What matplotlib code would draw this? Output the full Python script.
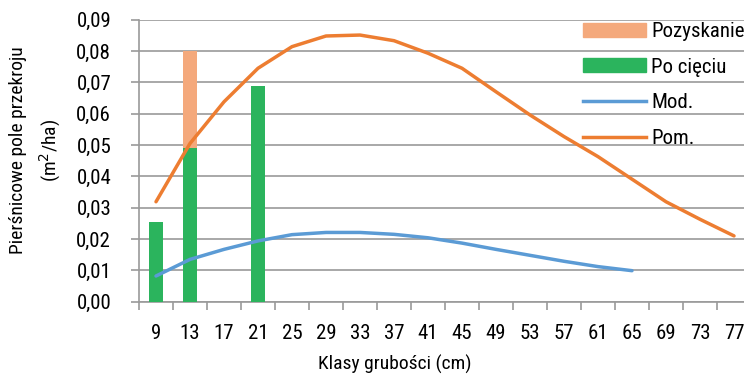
import matplotlib
matplotlib.use("Agg")
import matplotlib.pyplot as plt
import numpy as np
from matplotlib import font_manager as fm
from matplotlib.patches import Patch
from matplotlib.lines import Line2D

names = {f.name for f in fm.fontManager.ttflist}
for cand in ["Roboto Condensed", "Liberation Sans Narrow", "Open Sans Condensed", "DejaVu Sans Condensed", "Liberation Sans"]:
    if cand in names:
        FONT = cand
        break
else:
    FONT = "DejaVu Sans"
plt.rcParams['font.family'] = [FONT, 'DejaVu Sans']

# ---- data ----
classes = [9, 13, 17, 21, 25, 29, 33, 37, 41, 45, 49, 53, 57, 61, 65, 69, 73, 77]
po_cieciu = [0.0253, 0.049, 0, 0.069, 0, 0, 0, 0, 0, 0, 0, 0, 0, 0, 0, 0, 0, 0]
pozyskanie = [0, 0.031, 0, 0, 0, 0, 0, 0, 0, 0, 0, 0, 0, 0, 0, 0, 0, 0]
mod = [0.0082, 0.0135, 0.0167, 0.0194, 0.0214, 0.0221, 0.0221, 0.0215, 0.0204,
       0.0187, 0.0167, 0.0148, 0.0129, 0.0112, 0.0099]
pom = [0.0319, 0.0505, 0.0638, 0.0745, 0.0814, 0.0848, 0.0851, 0.0833, 0.0793,
       0.0745, 0.0670, 0.0596, 0.0527, 0.0463, 0.0391, 0.0319, 0.0263, 0.0210]
y_ticks = [0.00, 0.01, 0.02, 0.03, 0.04, 0.05, 0.06, 0.07, 0.08, 0.09]

C_POZ = "#F4A97C"
C_PO = "#2BB45D"
C_MOD = "#5B9BD5"
C_POM = "#ED7D31"
GRID = "#9A9A9A"

W, H = 744, 377
fig = plt.figure(figsize=(W / 100, H / 100), dpi=100)
left, right, bottom, top = 139, 751, 301.7, 19.7
ax = fig.add_axes([left / W, 1 - bottom / H, (right - left) / W, (bottom - top) / H])

x = np.arange(len(classes))
ax.bar(x, po_cieciu, width=0.4, color=C_PO, zorder=3)
ax.bar(x, pozyskanie, width=0.4, bottom=po_cieciu, color=C_POZ, zorder=3)
ax.plot(x[:len(mod)], mod, color=C_MOD, lw=2.5, zorder=4, solid_capstyle='round')
ax.plot(x[:len(pom)], pom, color=C_POM, lw=2.5, zorder=4, solid_capstyle='round')

ax.set_xlim(-0.5, len(classes) - 0.5)
ax.set_ylim(0, 0.09)
ax.set_yticks(y_ticks)
ax.set_yticklabels([f"{v:.2f}".replace(".", ",") for v in y_ticks], fontsize=15)
ax.yaxis.grid(True, color=GRID, lw=1.2, zorder=0)
ax.set_axisbelow(True)

ax.set_xticks(np.arange(len(classes) + 1) - 0.5)
ax.set_xticklabels([])
ax.set_xticks(x, minor=True)
ax.set_xticklabels([str(c) for c in classes], minor=True, fontsize=15)
ax.tick_params(axis='x', which='major', length=6, color=GRID, width=1.2)
ax.tick_params(axis='x', which='minor', length=0, pad=16)
ax.tick_params(axis='y', length=6, color=GRID, width=1.2, pad=14)

for s in ["top", "right"]:
    ax.spines[s].set_visible(False)
for s in ["left", "bottom"]:
    ax.spines[s].set_color(GRID)
    ax.spines[s].set_linewidth(1.2)

fig.text(395 / W, 1 - 364 / H, "Klasy grubości (cm)", ha='center', va='center', fontsize=14)
fig.text(18 / W, 1 - 150 / H, "Pierśnicowe pole przekroju", rotation=90, ha='center', va='center', fontsize=14)
fig.text(50 / W, 1 - 150 / H, "(m$^2$/ha)", rotation=90, ha='center', va='center', fontsize=14)

handles = [Patch(color=C_POZ), Patch(color=C_PO),
           Line2D([], [], color=C_MOD, lw=2.5), Line2D([], [], color=C_POM, lw=2.5)]
labels = ["Pozyskanie", "Po cięciu", "Mod.", "Pom."]
fig.legend(handles, labels, loc='upper left', bbox_to_anchor=(583 / W, 1 - 22 / H),
           frameon=False, fontsize=15, borderpad=0, borderaxespad=0,
           handlelength=3.0, handleheight=0.65, handletextpad=0.28, labelspacing=0.8)

fig.savefig("out.png", dpi=100)
